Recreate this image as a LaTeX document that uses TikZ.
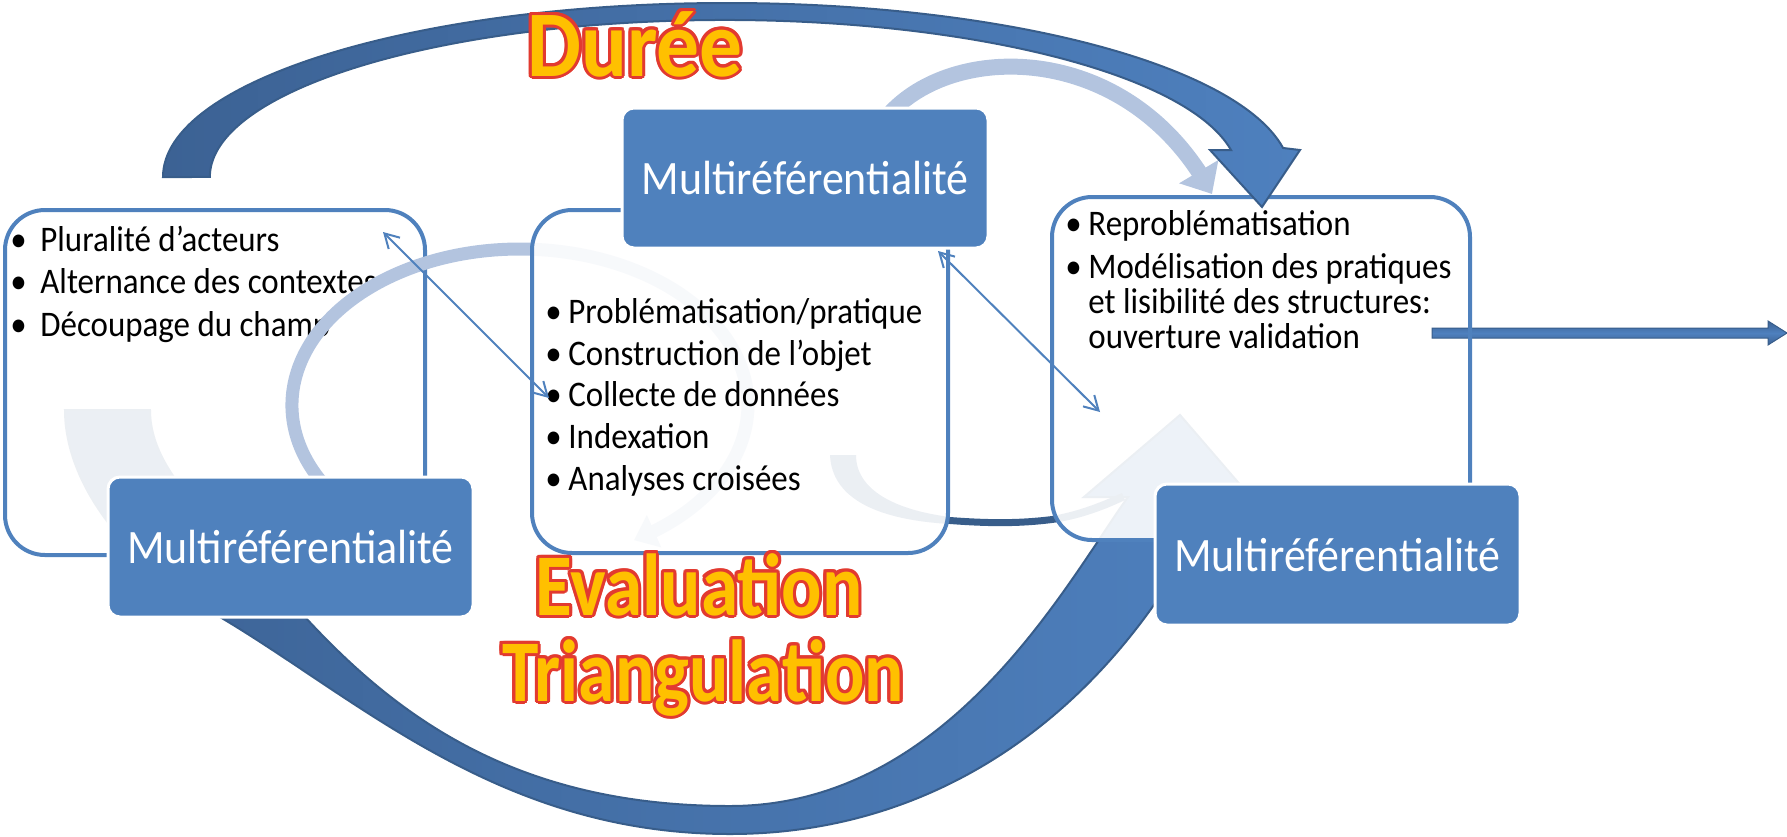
\documentclass[tikz,border=0pt]{standalone}
\usepackage{fontspec}
\usepackage{graphicx}
\setmainfont{Carlito}
\usetikzlibrary{arrows.meta,bending,calc}
\definecolor{boxblue}{RGB}{79,129,189}
\definecolor{arrdark}{RGB}{60,98,148}
\definecolor{arrlight}{RGB}{78,128,190}
\definecolor{arroutline}{RGB}{56,93,138}
\definecolor{lightarc}{RGB}{179,196,223}
\definecolor{wyellow}{RGB}{255,192,0}
\definecolor{wred}{RGB}{226,58,48}
\newcommand\bul[1][12.6pt]{\makebox[#1][l]{•}}
\newcommand\sq[1]{\scalebox{0.915}[1.0]{#1}}
\newcommand\bigword[6]{%
  \foreach \k [evaluate=\k as \ang using \k*22.5] in {0,...,15}{%
    \node[bigw, font=\fontsize{#5}{#5}\selectfont\bfseries, text=wred, xscale=#4] (#1o\k) at ($(#2,#3)+(\ang:3)$) {#6};}
  \node[bigw, font=\fontsize{#5}{#5}\selectfont\bfseries, text=wyellow, xscale=#4] (#1) at (#2,#3) {#6};}
\begin{document}
\begin{tikzpicture}[x=0.5pt,y=-0.5pt,
  cbox/.style={rectangle, rounded corners=20pt, draw=boxblue, line width=2pt,
     fill=white, fill opacity=0.9, draw opacity=1, inner sep=0pt},
  cborder/.style={rectangle, rounded corners=20pt, draw=boxblue, line width=2pt, inner sep=0pt},
  mbox/.style={rectangle, rounded corners=6pt, fill=boxblue, draw=white, line width=1.5pt,
     text=white, font=\fontsize{24}{28}\selectfont, inner sep=0pt},
  btext/.style={anchor=base west, inner sep=0pt, font=\fontsize{18}{19}\selectfont, text=black},
  bigw/.style={anchor=base, inner sep=0pt},
  conn/.style={draw=boxblue, line width=1pt,
     {Straight Barb[length=7pt,width=8pt]}-{Straight Barb[length=7pt,width=8pt]}},
  bigarrow/.style={draw=arroutline, line width=1pt, left color=arrdark, right color=arrlight},
  lightline/.style={draw=lightarc, line cap=butt}
]
\useasboundingbox (0,0) rectangle (1787,836);

% bottom big arrow (behind the boxes)
\path[bigarrow] (65,410) .. controls (65,480) and (120,560) .. (220,617)
  .. controls (360,700) and (500,834) .. (730,834)
  .. controls (950,834) and (1120,700) .. (1215,500)
  -- (1255,502) -- (1180,415) -- (1084,497) -- (1128,497)
  .. controls (1068,580) and (950,806) .. (730,806)
  .. controls (520,806) and (400,720) .. (305,617)
  .. controls (230,535) and (150,480) .. (150,410) -- cycle;

% thin dark arrow between middle and right boxes
\path[fill=arroutline] (830,455) .. controls (832,500) and (880,520) .. (950,524)
  .. controls (990,527) and (1020,527) .. (1052,523)
  .. controls (1075,520) and (1100,512) .. (1125,500) -- (1122,493)
  .. controls (1095,505) and (1075,512) .. (1052,516)
  .. controls (1020,520) and (990,520) .. (950,517)
  .. controls (895,510) and (856,490) .. (856,455) -- cycle;

% left box
\node[cbox, minimum width=210pt, minimum height=172.5pt] (lbox) at (215,382.5) {};
\node[btext] (l1) at (10,251) {\sq{\bul[16.4pt]Pluralité d’acteurs}};
\node[btext] (l2) at (10,293) {\sq{\bul[16.4pt]Alternance des contextes}};
\node[btext] (l3) at (10,336) {\sq{\bul[16.4pt]Découpage du champ}};

% light circular arrow
\draw[lightline, line width=6.5pt, -{Triangle[length=11pt,width=17pt]}]
  (333.2,494.5) arc[start angle=145, end angle=420, x radius=228, y radius=156];

\node[mbox, minimum width=182.5pt, minimum height=70pt] (lmulti) at (290.5,547) {\sq{Multiréférentialité}};

% middle box
\node[cbox, minimum width=208pt, minimum height=171.5pt] (mbox) at (740,381.5) {};
\node[btext] (m1) at (545,323) {\sq{\bul Problématisation/pratique}};
\node[btext] (m2) at (545,365) {\sq{\bul Construction de l’objet}};
\node[btext] (m3) at (545,406) {\sq{\bul Collecte de données}};
\node[btext] (m4) at (545,448) {\sq{\bul Indexation}};
\node[btext] (m5) at (545,490) {\sq{\bul Analyses croisées}};

% top light arrow
\draw[lightline, line width=8pt, -{Triangle[length=13pt,width=22pt]}]
  (886,118) .. controls (950,40) and (1130,40) .. (1212,194);

\node[mbox, minimum width=183pt, minimum height=70pt] (mmulti) at (805,178) {\sq{Multiréférentialité}};

% right box
\node[cbox, draw=none, minimum width=209pt, minimum height=171.5pt] (rbox) at (1261,368.5) {};
\path[draw=arroutline, line width=0.5pt, top color=arrdark, bottom color=arrdark, middle color=arrlight]
  (1432,328) -- (1768,328) -- (1768,321) -- (1787,333) -- (1768,345) -- (1768,338) -- (1432,338) -- cycle;
\node[cborder, minimum width=209pt, minimum height=171.5pt] (rboxb) at (1261,368.5) {};
\node[btext] (r1) at (1065,235) {\sq{\bul Reproblématisation}};
\node[btext] (r2) at (1065,278) {\sq{\bul Modélisation des pratiques}};
\node[btext] (r3) at (1088,313) {\sq{et lisibilité des structures:}};
\node[btext] (r4) at (1088,348) {\sq{ouverture validation}};

\node[mbox, minimum width=182.5pt, minimum height=70.5pt] (rmulti) at (1337.5,554.5) {\sq{Multiréférentialité}};

% top big arrow
\path[bigarrow] (163,177) arc[start angle=180, end angle=350.4, x radius=564, y radius=174]
  -- (1300,150) -- (1262,207) -- (1210,150) -- (1231,150)
  arc[start angle=350.1, end angle=180, x radius=514.4, y radius=157] -- cycle;

% thin double arrows
\coordinate (c1a) at (383,232);
\coordinate (c1b) at (549,398);
\draw[conn] (c1a) -- (c1b);
\coordinate (c2a) at (938,251);
\coordinate (c2b) at (1100,412);
\draw[conn] (c2a) -- (c2b);

% big words
\bigword{duree}{635}{76}{0.91}{47}{Durée}
\bigword{evaluation}{699}{615}{0.855}{44}{Evaluation}
\bigword{triang}{703}{701}{0.834}{44}{Triangulation}
\end{tikzpicture}
\end{document}
